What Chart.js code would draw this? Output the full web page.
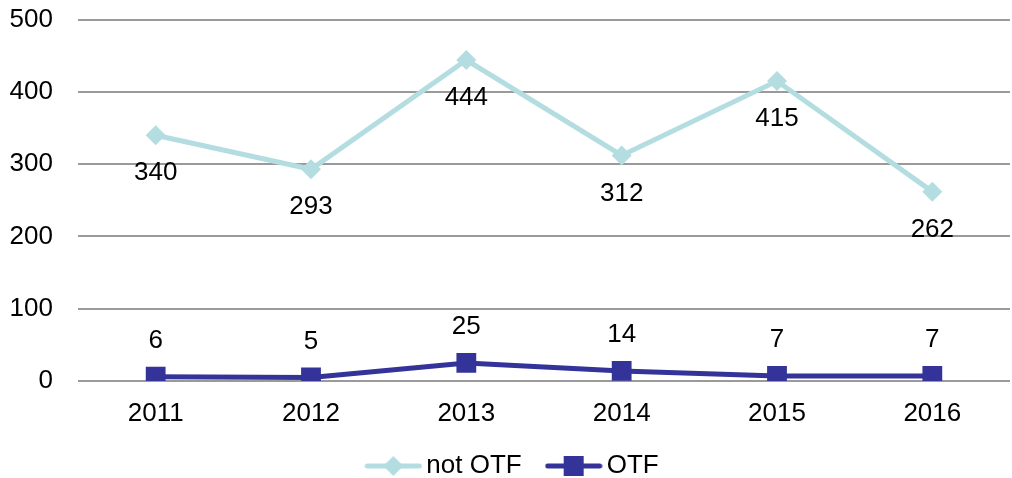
<!DOCTYPE html>
<html>
<head>
<meta charset="utf-8">
<script src="https://cdn.jsdelivr.net/npm/chart.js@4"></script>
<style>
  html, body { margin: 0; padding: 0; background: #fff; overflow: hidden; }
  body { width: 1024px; }
  #myChart { display: block; margin-top: -21px; width: 1024px; height: 510px; }
</style>
</head>
<body>
<canvas id="myChart" width="1024" height="510"></canvas>
<script>
// datos
const years = ["2011", "2012", "2013", "2014", "2015", "2016"];
const notOtf = [340, 293, 444, 312, 415, 262];
const otf = [6, 5, 25, 14, 7, 7];
const yTicks = [0, 100, 200, 300, 400, 500];

const colorNot = "#b3dde0";
const colorOtf = "#333399";
const fuente = "'Liberation Sans', Arial, sans-serif";

// icono de leyenda: linea con el marcador en el medio
function legendIcon(color, shape) {
  const c = document.createElement("canvas");
  c.width = 58;
  c.height = 24;
  const g = c.getContext("2d");
  g.strokeStyle = color;
  g.lineWidth = 5;
  g.lineCap = "round";
  g.beginPath();
  g.moveTo(3, 12);
  g.lineTo(55, 12);
  g.stroke();
  g.fillStyle = color;
  if (shape === "diamond") {
    g.beginPath();
    g.moveTo(29, 2);
    g.lineTo(39, 12);
    g.lineTo(29, 22);
    g.lineTo(19, 12);
    g.closePath();
    g.fill();
  } else {
    g.fillRect(19, 2, 20, 20);
  }
  return c;
}

// plugin simple para las etiquetas de valores
const etiquetas = {
  id: "etiquetas",
  afterDatasetsDraw(chart) {
    const ctx = chart.ctx;
    ctx.save();
    ctx.font = "26px " + fuente;
    ctx.fillStyle = "#000";
    ctx.textAlign = "center";
    ctx.textBaseline = "middle";
    chart.data.datasets.forEach((ds, i) => {
      const meta = chart.getDatasetMeta(i);
      meta.data.forEach((pt, j) => {
        ctx.fillText(String(ds.data[j]), pt.x, pt.y + ds.labelShift);
      });
    });
    ctx.restore();
  }
};

const ctx = document.getElementById("myChart").getContext("2d");
const myChart = new Chart(ctx, {
  type: "line",
  data: {
    labels: years,
    datasets: [
      {
        label: "not OTF",
        data: notOtf,
        borderColor: colorNot,
        backgroundColor: colorNot,
        borderWidth: 5,
        lineTension: 0,
        pointStyle: "rectRot",
        pointRadius: 10,
        pointHoverRadius: 10,
        pointBorderWidth: 0,
        labelShift: 38,
        icon: legendIcon(colorNot, "diamond")
      },
      {
        label: "OTF",
        data: otf,
        borderColor: colorOtf,
        backgroundColor: colorOtf,
        borderWidth: 5,
        lineTension: 0,
        pointStyle: "rect",
        pointRadius: 14,
        pointHoverRadius: 14,
        pointBorderWidth: 0,
        labelShift: -36,
        icon: legendIcon(colorOtf, "square")
      }
    ]
  },
  options: {
    responsive: false,
    animation: false,
    devicePixelRatio: 1,
    layout: { padding: { top: 0, right: 2, left: 10, bottom: 0 } },
    scales: {
      x: {
        offset: true,
        grid: { display: false },
        border: { display: false },
        afterFit: (axis) => { axis.height = 40; },
        ticks: {
          color: "#000",
          padding: 9,
          font: { family: fuente, size: 26 }
        }
      },
      y: {
        min: 0,
        max: 500,
        afterBuildTicks: (axis) => {
          axis.ticks = yTicks.map((v) => ({ value: v }));
        },
        afterFit: (axis) => { axis.width = 68; },
        grid: { color: "#9a9a9a", lineWidth: 2, drawTicks: false },
        border: { display: false },
        ticks: {
          color: "#000",
          padding: 25,
          font: { family: fuente, size: 26 }
        }
      }
    },
    plugins: {
      tooltip: { enabled: false },
      legend: {
        position: "bottom",
        labels: {
          usePointStyle: true,
          pointStyleWidth: 40,
          padding: 32,
          color: "#000",
          font: { family: fuente, size: 26 },
          generateLabels: (chart) =>
            chart.data.datasets.map((ds, i) => ({
              text: ds.label,
              pointStyle: ds.icon,
              fillStyle: ds.backgroundColor,
              strokeStyle: ds.borderColor,
              lineWidth: 0,
              hidden: false,
              datasetIndex: i
            }))
        }
      }
    }
  },
  plugins: [etiquetas]
});
</script>
</body>
</html>
